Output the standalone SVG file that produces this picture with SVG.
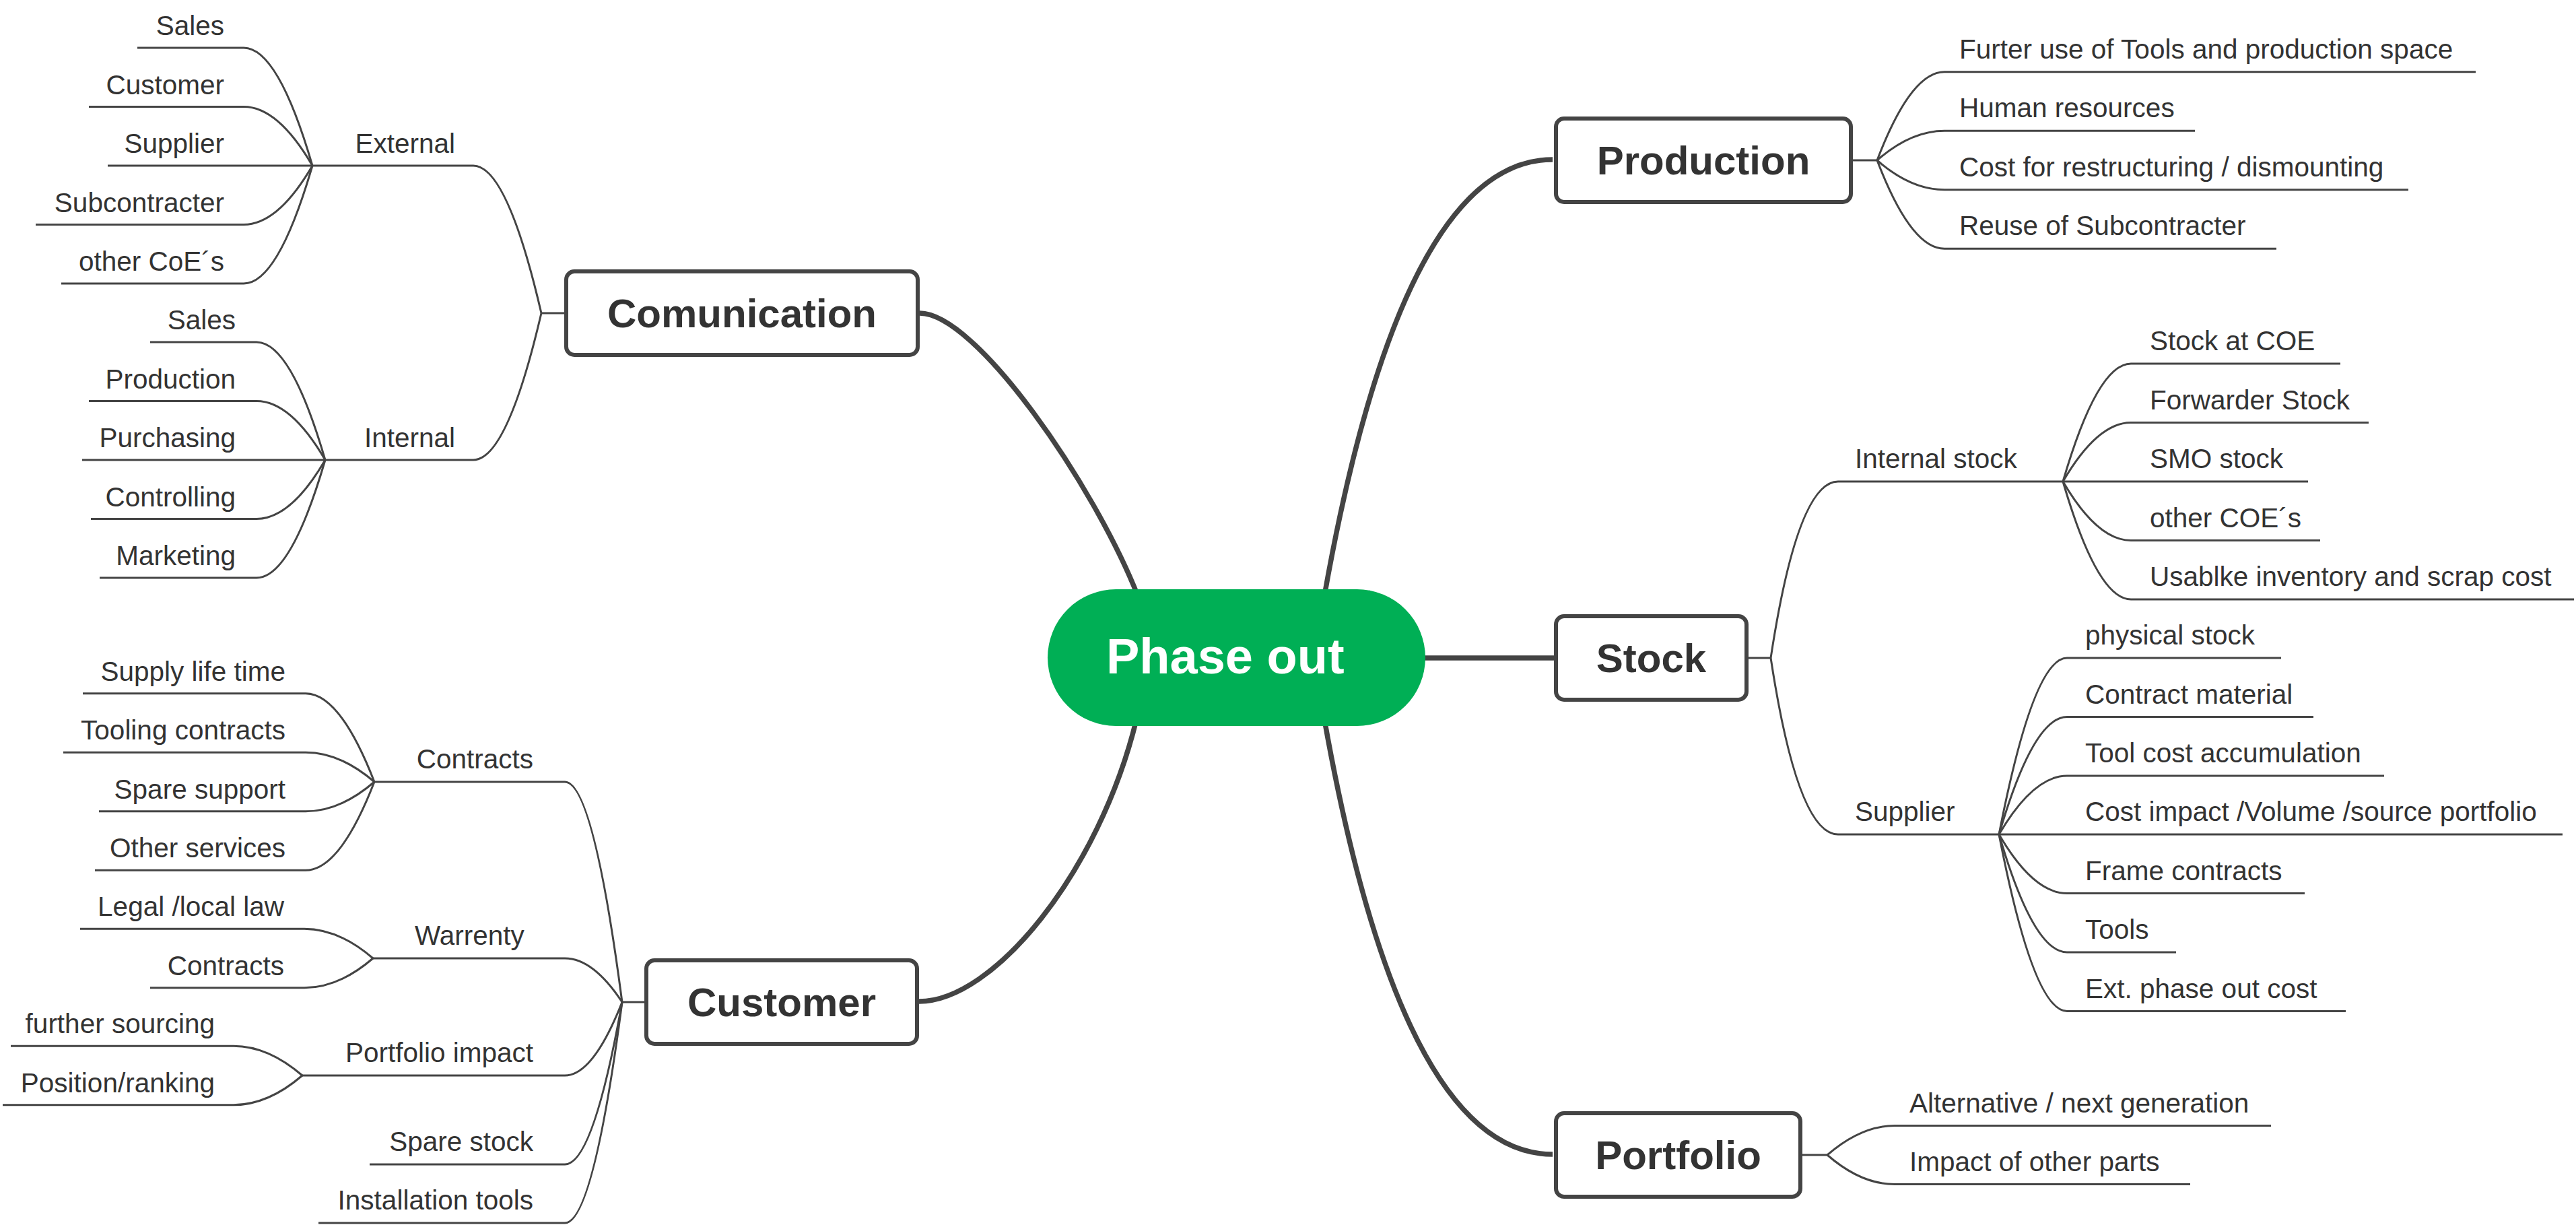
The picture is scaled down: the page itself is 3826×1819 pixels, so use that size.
<svg xmlns="http://www.w3.org/2000/svg" width="3826" height="1819" viewBox="0 0 3826 1819">
<style>
.bg{fill:#ffffff}
.cm{fill:none;stroke:#444444;stroke-width:7.5;stroke-linecap:butt}
.cs{fill:none;stroke:#444444;stroke-width:3}
.box{fill:#ffffff;stroke:#444444;stroke-width:6}
.root{fill:#00AF55}
.tm{font-family:"Liberation Sans",Arial,sans-serif;font-weight:bold;font-size:60px;fill:#333333;text-anchor:middle}
.tr{font-family:"Liberation Sans",Arial,sans-serif;font-weight:bold;font-size:74px;fill:#ffffff}
.t{font-family:"Liberation Sans",Arial,sans-serif;font-size:40.5px;fill:#333333}
.e{text-anchor:end}
</style>
<rect class="bg" x="0" y="0" width="3826" height="1819"/>
<g id="connectors">
  <path class="cm" d="M1366,465 C1450,465 1625,720 1690,885"/>
  <path class="cm" d="M2306,237 C2120,237 2022,575 1967,885"/>
  <path class="cm" d="M2110,977 H2310"/>
  <path class="cm" d="M1365,1487 C1475,1487 1632,1297 1688,1068"/>
  <path class="cm" d="M2306,1714 C2120,1714 2022,1377 1967,1068"/>
  <!-- Comunication -->
  <path class="cs" d="M839,465 H804"/>
  <path class="cs" d="M804,465 Q753,246 703,246 H464"/>
  <path class="cs" d="M804,465 Q753,683 703,683 H483"/>
  <path class="cs" d="M464,246 Q413,71 362,71 H204"/>
  <path class="cs" d="M464,246 Q413,158.5 362,158.5 H132"/>
  <path class="cs" d="M464,246 H160"/>
  <path class="cs" d="M464,246 Q413,333.5 362,333.5 H53"/>
  <path class="cs" d="M464,246 Q413,421 362,421 H91"/>
  <path class="cs" d="M483,683 Q432,508 381,508 H223"/>
  <path class="cs" d="M483,683 Q432,595.5 381,595.5 H132"/>
  <path class="cs" d="M483,683 H122"/>
  <path class="cs" d="M483,683 Q432,770.5 381,770.5 H135"/>
  <path class="cs" d="M483,683 Q432,858 381,858 H148"/>
  <!-- Customer -->
  <path class="cs" d="M957,1488 H924"/>
  <path class="cs" d="M924,1488 Q881,1161 839,1161 H556"/>
  <path class="cs" d="M924,1488 Q881,1423 839,1423 H554"/>
  <path class="cs" d="M924,1488 Q881,1597 839,1597 H449"/>
  <path class="cs" d="M924,1488 Q881,1729 839,1729 H549"/>
  <path class="cs" d="M924,1488 Q881,1816 839,1816 H473"/>
  <path class="cs" d="M556,1161 Q505,1029.75 454,1029.75 H123"/>
  <path class="cs" d="M556,1161 Q505,1117.25 454,1117.25 H94"/>
  <path class="cs" d="M556,1161 Q505,1204.75 454,1204.75 H147"/>
  <path class="cs" d="M556,1161 Q505,1292.25 454,1292.25 H141"/>
  <path class="cs" d="M554,1423 Q503,1379.25 452,1379.25 H119"/>
  <path class="cs" d="M554,1423 Q503,1466.75 452,1466.75 H223"/>
  <path class="cs" d="M449,1597 Q398,1553.25 347,1553.25 H16"/>
  <path class="cs" d="M449,1597 Q398,1640.75 347,1640.75 H4"/>
  <!-- Production -->
  <path class="cs" d="M2752,238 H2788"/>
  <path class="cs" d="M2788,238 Q2838,106.75 2888,106.75 H3677"/>
  <path class="cs" d="M2788,238 Q2838,194.25 2888,194.25 H3260"/>
  <path class="cs" d="M2788,238 Q2838,281.75 2888,281.75 H3577"/>
  <path class="cs" d="M2788,238 Q2838,369.25 2888,369.25 H3381"/>
  <!-- Stock -->
  <path class="cs" d="M2597,977 H2630"/>
  <path class="cs" d="M2630,977 Q2670,715 2730,715 H3064"/>
  <path class="cs" d="M2630,977 Q2670,1239 2730,1239 H2969"/>
  <path class="cs" d="M3064,715 Q3115,540 3165,540 H3476"/>
  <path class="cs" d="M3064,715 Q3115,627.5 3165,627.5 H3518"/>
  <path class="cs" d="M3064,715 H3428"/>
  <path class="cs" d="M3064,715 Q3115,802.5 3165,802.5 H3446"/>
  <path class="cs" d="M3064,715 Q3115,890 3165,890 H3823"/>
  <path class="cs" d="M2969,1239 Q3020,977 3070,977 H3388"/>
  <path class="cs" d="M2969,1239 Q3020,1064.5 3070,1064.5 H3436"/>
  <path class="cs" d="M2969,1239 Q3020,1152 3070,1152 H3541"/>
  <path class="cs" d="M2969,1239 H3806"/>
  <path class="cs" d="M2969,1239 Q3020,1326.5 3070,1326.5 H3423"/>
  <path class="cs" d="M2969,1239 Q3020,1414 3070,1414 H3232"/>
  <path class="cs" d="M2969,1239 Q3020,1501.5 3070,1501.5 H3484"/>
  <!-- Portfolio -->
  <path class="cs" d="M2677,1715 H2714"/>
  <path class="cs" d="M2714,1715 Q2764,1671.5 2814,1671.5 H3373"/>
  <path class="cs" d="M2714,1715 Q2764,1758.5 2814,1758.5 H3253"/>
</g>
<g id="node-root">
  <rect class="root" x="1556" y="875" width="561" height="203" rx="101.5" ry="101.5"/>
  <text class="tr" x="1643" y="1000">Phase out</text>
</g>
<g id="node-comunication">
  <rect class="box" x="841" y="403" width="522" height="124" rx="12"/>
  <text class="tm" x="1102" y="486">Comunication</text>
</g>
<g id="node-production">
  <rect class="box" x="2311" y="176" width="438" height="124" rx="12"/>
  <text class="tm" x="2530" y="259">Production</text>
</g>
<g id="node-stock">
  <rect class="box" x="2311" y="915" width="283" height="124" rx="12"/>
  <text class="tm" x="2452.5" y="998">Stock</text>
</g>
<g id="node-customer">
  <rect class="box" x="960" y="1426" width="402" height="124" rx="12"/>
  <text class="tm" x="1161" y="1509">Customer</text>
</g>
<g id="node-portfolio">
  <rect class="box" x="2311" y="1653" width="363" height="124" rx="12"/>
  <text class="tm" x="2492.5" y="1736">Portfolio</text>
</g>
<g id="node-external"><text class="t e" x="676" y="227">External</text></g>
<g id="node-ext-sales"><text class="t e" x="333" y="52">Sales</text></g>
<g id="node-ext-customer"><text class="t e" x="333" y="139.5">Customer</text></g>
<g id="node-ext-supplier"><text class="t e" x="333" y="227">Supplier</text></g>
<g id="node-ext-subcontracter"><text class="t e" x="333" y="314.5">Subcontracter</text></g>
<g id="node-ext-othercoe"><text class="t e" x="333" y="402">other CoE´s</text></g>
<g id="node-internal"><text class="t e" x="676" y="664">Internal</text></g>
<g id="node-int-sales"><text class="t e" x="350" y="489">Sales</text></g>
<g id="node-int-production"><text class="t e" x="350" y="576.5">Production</text></g>
<g id="node-int-purchasing"><text class="t e" x="350" y="664">Purchasing</text></g>
<g id="node-int-controlling"><text class="t e" x="350" y="751.5">Controlling</text></g>
<g id="node-int-marketing"><text class="t e" x="350" y="839">Marketing</text></g>
<g id="node-contracts"><text class="t e" x="792" y="1141">Contracts</text></g>
<g id="node-supply-life"><text class="t e" x="424" y="1010.75">Supply life time</text></g>
<g id="node-tooling"><text class="t e" x="424" y="1098.25">Tooling contracts</text></g>
<g id="node-spare-support"><text class="t e" x="424" y="1185.75">Spare support</text></g>
<g id="node-other-services"><text class="t e" x="424" y="1273.25">Other services</text></g>
<g id="node-warrenty"><text class="t" x="616" y="1403">Warrenty</text></g>
<g id="node-legal"><text class="t e" x="422" y="1360.25">Legal /local law</text></g>
<g id="node-w-contracts"><text class="t e" x="422" y="1447.75">Contracts</text></g>
<g id="node-portfolio-impact"><text class="t e" x="792" y="1577">Portfolio impact</text></g>
<g id="node-further-sourcing"><text class="t e" x="319" y="1534.25">further sourcing</text></g>
<g id="node-position"><text class="t e" x="319" y="1621.75">Position/ranking</text></g>
<g id="node-spare-stock"><text class="t e" x="792" y="1709">Spare stock</text></g>
<g id="node-installation"><text class="t e" x="792" y="1796">Installation tools</text></g>
<g id="node-p1"><text class="t" x="2910" y="87">Furter use of Tools and production space</text></g>
<g id="node-p2"><text class="t" x="2910" y="174">Human resources</text></g>
<g id="node-p3"><text class="t" x="2910" y="262">Cost for restructuring / dismounting</text></g>
<g id="node-p4"><text class="t" x="2910" y="349">Reuse of Subcontracter</text></g>
<g id="node-internal-stock"><text class="t" x="2755" y="695">Internal stock</text></g>
<g id="node-s1"><text class="t" x="3193" y="520">Stock at COE</text></g>
<g id="node-s2"><text class="t" x="3193" y="607.5">Forwarder Stock</text></g>
<g id="node-s3"><text class="t" x="3193" y="695">SMO stock</text></g>
<g id="node-s4"><text class="t" x="3193" y="782.5">other COE´s</text></g>
<g id="node-s5"><text class="t" x="3193" y="870">Usablke inventory and scrap cost</text></g>
<g id="node-supplier"><text class="t" x="2755" y="1219">Supplier</text></g>
<g id="node-u1"><text class="t" x="3097" y="957">physical stock</text></g>
<g id="node-u2"><text class="t" x="3097" y="1044.5">Contract material</text></g>
<g id="node-u3"><text class="t" x="3097" y="1132">Tool cost accumulation</text></g>
<g id="node-u4"><text class="t" x="3097" y="1219">Cost impact /Volume /source portfolio</text></g>
<g id="node-u5"><text class="t" x="3097" y="1306.5">Frame contracts</text></g>
<g id="node-u6"><text class="t" x="3097" y="1394">Tools</text></g>
<g id="node-u7"><text class="t" x="3097" y="1481.5">Ext. phase out cost</text></g>
<g id="node-f1"><text class="t" x="2836" y="1651.5">Alternative / next generation</text></g>
<g id="node-f2"><text class="t" x="2836" y="1738.5">Impact of other parts</text></g>
</svg>
